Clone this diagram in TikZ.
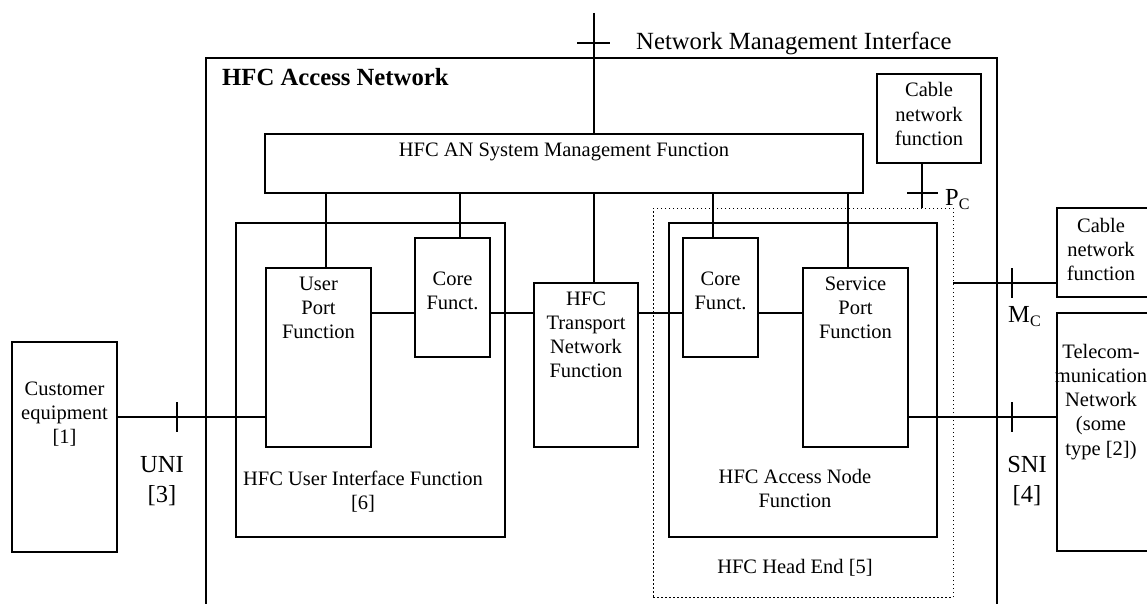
\documentclass[tikz,border=0pt]{standalone}
\usepackage{fontspec}
\setmainfont{Liberation Serif}
\begin{document}
\begin{tikzpicture}[x=1pt,y=-1pt,
  box/.style={draw,line width=1.3pt,inner sep=0pt},
  conn/.style={line width=1.3pt},
  dotbox/.style={draw,line width=0.9pt,dash pattern=on 1.5pt off 2.5pt,inner sep=0pt},
  txt/.style={inner sep=0pt,align=center,anchor=base,font=\fontsize{20.5}{24.3}\selectfont},
  iface/.style={inner sep=0pt,align=center,anchor=base,font=\fontsize{24.5}{30}\selectfont},
  big/.style={inner sep=0pt,anchor=base west,font=\fontsize{24.7}{30}\selectfont}]
\useasboundingbox (0,0) rectangle (1147,604);

% boxes
\node[box,minimum width=791,minimum height=562] (outer) at (601.5,339) {};
\node[box,minimum width=105,minimum height=210] (cust) at (64.5,447) {};
\node[box,minimum width=598,minimum height=59] (sys) at (564,163.5) {};
\node[box,minimum width=104,minimum height=89] (cabin) at (929,118.5) {};
\node[box,minimum width=269,minimum height=314] (uif) at (370.5,380) {};
\node[box,minimum width=105,minimum height=179] (upf) at (318.5,357.5) {};
\node[box,minimum width=75,minimum height=119] (corel) at (452.5,297.5) {};
\node[box,minimum width=104,minimum height=164] (tnf) at (586,365) {};
\node[dotbox,minimum width=300,minimum height=389] (head) at (803,402.5) {};
\node[box,minimum width=268,minimum height=314] (anf) at (803,380) {};
\node[box,minimum width=75,minimum height=119] (corer) at (720.5,297.5) {};
\node[box,minimum width=105,minimum height=179] (spf) at (855.5,357.5) {};
\node[box,minimum width=93,minimum height=89] (cabout) at (1103.5,252.5) {};
\node[box,minimum width=93,minimum height=238] (tel) at (1103.5,432) {};

% texts (anchor=base is the baseline of the last line)
\node[big,font=\fontsize{24.7}{30}\selectfont\bfseries] (tTitle) at (222,86) {HFC Access Network};
\node[big] (tNmi) at (636,50) {Network Management Interface};
\node[txt] (tSys) at (564,157) {HFC AN System Management Function};
\node[txt] (tCabin) at (929,145.6) {Cable\\network\\function};
\node[txt] (tUpf) at (318.5,338.6) {User\\Port\\Function};
\node[txt] (tCorel) at (452.5,309.3) {Core\\Funct.};
\node[txt] (tUif) at (363,509.3) {HFC User Interface Function\\{}[6]};
\node[txt] (tTnf) at (586,377.9) {HFC\\Transport\\Network\\Function};
\node[txt] (tCorer) at (720.5,309.3) {Core\\Funct.};
\node[txt] (tSpf) at (855.5,338.6) {Service\\Port\\Function};
\node[txt] (tAnf) at (795,507.3) {HFC Access Node\\Function};
\node[txt] (tHead) at (795,573) {HFC Head End [5]};
\node[txt] (tCust) at (64.5,443.6) {Customer\\equipment\\{}[1]};
\node[txt] (tCabout) at (1101,280.6) {Cable\\network\\function};
\node[txt] (tTel) at (1101,455.2) {Telecom-\\munication\\Network\\(some\\type [2])};
\node[iface] (tUni) at (162,502) {UNI\\{}[3]};
\node[iface] (tSni) at (1027,502) {SNI\\{}[4]};
\node[iface,anchor=base west] (tMc) at (1008,322) {M\raisebox{-4pt}{\fontsize{16}{16}\selectfont C}};
\node[iface,anchor=base west] (tPc) at (945,205) {P\raisebox{-4pt}{\fontsize{16}{16}\selectfont C}};

% helper coordinates
\coordinate (nmitop) at (594,13);
\coordinate (xu) at (326,0);
\coordinate (xcl) at (460,0);
\coordinate (xt) at (594,0);
\coordinate (xcr) at (713,0);
\coordinate (xs) at (848,0);
\coordinate (xp) at (922,0);
\coordinate (r1) at (0,313);
\coordinate (r2) at (0,417);
\coordinate (r3) at (0,283);
\coordinate (nmiL) at (577,43);
\coordinate (nmiR) at (610,43);
\coordinate (pcL) at (907,193);
\coordinate (pcR) at (938,193);
\coordinate (uniT) at (177,402);
\coordinate (uniB) at (177,432);
\coordinate (mcT) at (1012,268);
\coordinate (mcB) at (1012,298);
\coordinate (sniT) at (1012,402);
\coordinate (sniB) at (1012,432);

% connectors
\draw[conn] (nmitop) -- (nmitop |- sys.north);
\draw[conn] (nmiL) -- (nmiR);
\draw[conn] (xu |- sys.south) -- (xu |- upf.north);
\draw[conn] (xcl |- sys.south) -- (xcl |- corel.north);
\draw[conn] (xt |- sys.south) -- (xt |- tnf.north);
\draw[conn] (xcr |- sys.south) -- (xcr |- corer.north);
\draw[conn] (xs |- sys.south) -- (xs |- spf.north);
\draw[conn] (xp |- cabin.south) -- (xp |- head.north);
\draw[conn] (pcL) -- (pcR);
\draw[conn] (upf.east |- r1) -- (corel.west |- r1);
\draw[conn] (corel.east |- r1) -- (tnf.west |- r1);
\draw[conn] (tnf.east |- r1) -- (corer.west |- r1);
\draw[conn] (corer.east |- r1) -- (spf.west |- r1);
\draw[conn] (cust.east |- r2) -- (upf.west |- r2);
\draw[conn] (uniT) -- (uniB);
\draw[conn] (spf.east |- r2) -- (tel.west |- r2);
\draw[conn] (sniT) -- (sniB);
\draw[conn] (head.east |- r3) -- (cabout.west |- r3);
\draw[conn] (mcT) -- (mcB);
\end{tikzpicture}
\end{document}
